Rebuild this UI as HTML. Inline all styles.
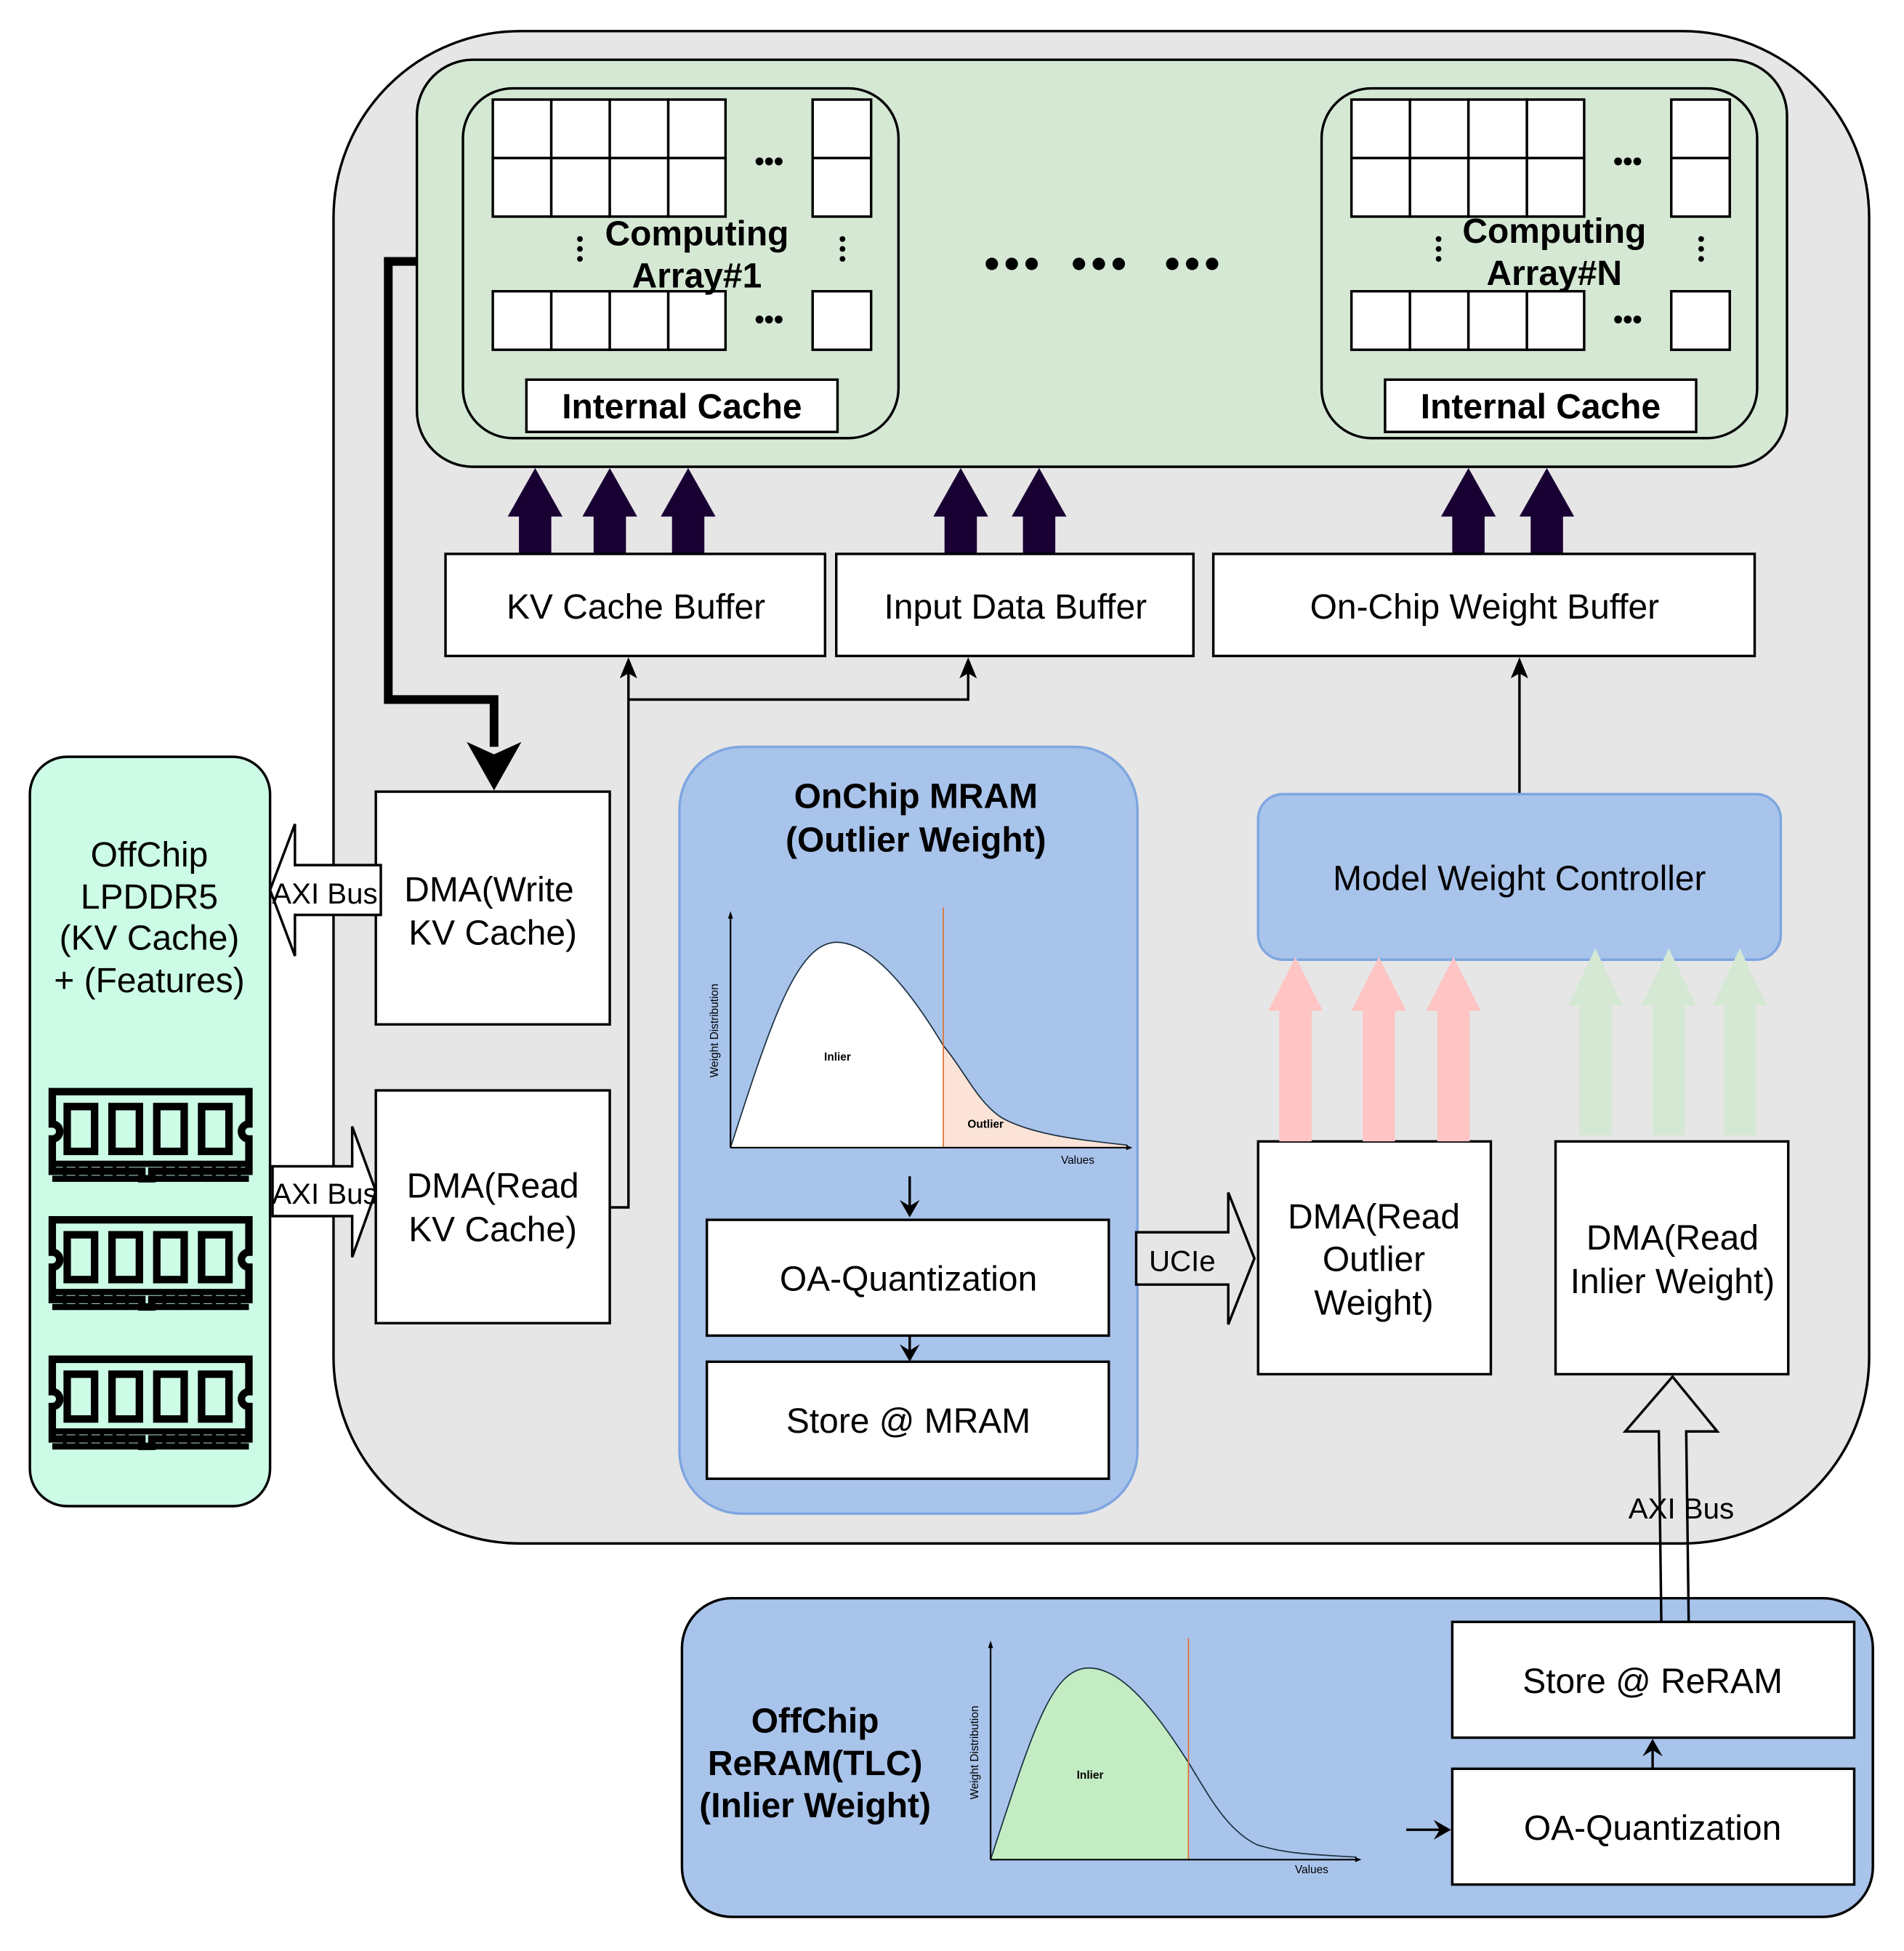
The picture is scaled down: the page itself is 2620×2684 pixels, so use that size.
<!DOCTYPE html>
<html><head><meta charset="utf-8"><style>
html,body{margin:0;padding:0;background:#fff;}
svg{display:block;}
text{font-family:"Liberation Sans",Arial,sans-serif;}
</style></head><body>
<svg width="2620" height="2684" viewBox="0 0 1530 1567.4" xmlns="http://www.w3.org/2000/svg">
<defs>
<g id="ram">
<path d="M2,2 H160 V28 a6,6 0 0 0 0,12 V66 H82 V72 H74 V66 H2 V40 a6,6 0 0 0 0,-12 Z" fill="none" stroke="#000" stroke-width="6"/>
<rect x="14" y="14" width="22" height="36" fill="none" stroke="#000" stroke-width="6"/>
<rect x="50" y="14" width="22" height="36" fill="none" stroke="#000" stroke-width="6"/>
<rect x="86" y="14" width="22" height="36" fill="none" stroke="#000" stroke-width="6"/>
<rect x="122" y="14" width="22" height="36" fill="none" stroke="#000" stroke-width="6"/>
<path d="M2,60 H160 M2,72 H160" stroke="#000" stroke-width="5"/>
<path d="M12,60 V72 M22,60 V72 M32,60 V72 M42,60 V72 M52,60 V72 M62,60 V72 M92,60 V72 M102,60 V72 M112,60 V72 M122,60 V72 M132,60 V72 M142,60 V72 M152,60 V72" stroke="#000" stroke-width="3"/>
</g>
<g id="darr"><path d="M-13,0 V-30 H-22 L0,-69 L22,-30 H13 V0 Z" fill="#190033"/></g>
<g id="cells">
<g fill="#fff" stroke="#000" stroke-width="2">
<rect x="0" y="0" width="47" height="47"/><rect x="47" y="0" width="47" height="47"/><rect x="94" y="0" width="47" height="47"/><rect x="141" y="0" width="46" height="47"/>
<rect x="0" y="47" width="47" height="47"/><rect x="47" y="47" width="47" height="47"/><rect x="94" y="47" width="47" height="47"/><rect x="141" y="47" width="46" height="47"/>
<rect x="257" y="0" width="47" height="47"/><rect x="257" y="47" width="47" height="47"/>
<rect x="0" y="154" width="47" height="47"/><rect x="47" y="154" width="47" height="47"/><rect x="94" y="154" width="47" height="47"/><rect x="141" y="154" width="46" height="47"/>
<rect x="257" y="154" width="47" height="47"/>
</g>
<text x="222" y="57" font-size="22" font-weight="bold" text-anchor="middle">•••</text>
<text x="222" y="184" font-size="22" font-weight="bold" text-anchor="middle">•••</text>
<g fill="#000"><circle cx="70" cy="112" r="2.3"/><circle cx="70" cy="120" r="2.3"/><circle cx="70" cy="128" r="2.3"/>
<circle cx="281" cy="112" r="2.3"/><circle cx="281" cy="120" r="2.3"/><circle cx="281" cy="128" r="2.3"/></g>
</g>
</defs>

<rect x="268" y="25" width="1234" height="1215" rx="150" fill="#e6e6e6" stroke="#000" stroke-width="2"/>
<rect x="335" y="48" width="1101" height="327" rx="45" fill="#d5e8d4" stroke="#000" stroke-width="2"/>

<rect x="372" y="71" width="350" height="281" rx="40" fill="#d5e8d4" stroke="#000" stroke-width="2"/>
<use href="#cells" x="396" y="80"/>
<text x="560" y="197" font-size="28" font-weight="bold" text-anchor="middle">Computing</text>
<text x="560" y="231" font-size="28" font-weight="bold" text-anchor="middle">Array#1</text>
<rect x="423" y="305" width="250" height="42" fill="#fff" stroke="#000" stroke-width="2"/>
<text x="548" y="336" font-size="28" font-weight="bold" text-anchor="middle">Internal Cache</text>

<rect x="1062" y="71" width="350" height="281" rx="40" fill="#d5e8d4" stroke="#000" stroke-width="2"/>
<use href="#cells" x="1086" y="80"/>
<text x="1249" y="195" font-size="28" font-weight="bold" text-anchor="middle">Computing</text>
<text x="1249" y="229" font-size="28" font-weight="bold" text-anchor="middle">Array#N</text>
<rect x="1113" y="305" width="250" height="42" fill="#fff" stroke="#000" stroke-width="2"/>
<text x="1238" y="336" font-size="28" font-weight="bold" text-anchor="middle">Internal Cache</text>

<g fill="#000"><circle cx="797" cy="212" r="5"/><circle cx="813" cy="212" r="5"/><circle cx="829" cy="212" r="5"/>
<circle cx="867" cy="212" r="5"/><circle cx="883" cy="212" r="5"/><circle cx="899" cy="212" r="5"/>
<circle cx="942" cy="212" r="5"/><circle cx="958" cy="212" r="5"/><circle cx="974" cy="212" r="5"/></g>

<use href="#darr" x="430" y="445"/><use href="#darr" x="490" y="445"/><use href="#darr" x="553" y="445"/>
<use href="#darr" x="772" y="445"/><use href="#darr" x="835" y="445"/>
<use href="#darr" x="1180" y="445"/><use href="#darr" x="1243" y="445"/>

<g fill="#fff" stroke="#000" stroke-width="2">
<rect x="358" y="445" width="305" height="82"/>
<rect x="672" y="445" width="287" height="82"/>
<rect x="975" y="445" width="435" height="82"/>
</g>
<g font-size="28" text-anchor="middle">
<text x="511" y="497">KV Cache Buffer</text>
<text x="816" y="497">Input Data Buffer</text>
<text x="1193" y="497">On-Chip Weight Buffer</text>
</g>

<path d="M335,210 H312 V562 H397 V600" fill="none" stroke="#000" stroke-width="7"/>
<path d="M375,596 L397,635 L419,596 L397,606 Z" fill="#000"/>

<g fill="#fff" stroke="#000" stroke-width="2">
<rect x="302" y="636" width="188" height="187"/>
<rect x="302" y="876" width="188" height="187"/>
</g>
<g font-size="28" text-anchor="middle">
<text x="393" y="724">DMA(Write</text><text x="396" y="759">KV Cache)</text>
<text x="396" y="962">DMA(Read</text><text x="396" y="997">KV Cache)</text>
</g>
<path d="M490,970 H505 V533 M505,562 H778 V533" fill="none" stroke="#000" stroke-width="2"/>
<path d="M498,545 L505,528 L512,545 L505,541 Z M771,545 L778,528 L785,545 L778,541 Z" fill="#000"/>

<rect x="24" y="608" width="193" height="602" rx="30" fill="#ccfbe6" stroke="#000" stroke-width="2"/>
<g font-size="28" text-anchor="middle">
<text x="120" y="696">OffChip</text><text x="120" y="730">LPDDR5</text><text x="120" y="763">(KV Cache)</text><text x="120" y="797">+ (Features)</text>
</g>
<use href="#ram" x="40" y="875"/>
<use href="#ram" x="40" y="978"/>
<use href="#ram" x="40" y="1090"/>

<path d="M306,695 V735 H237 V768 L217,715 L237,662 V695 Z" fill="#fff" stroke="#000" stroke-width="2"/>
<text x="261" y="726" font-size="23.5" text-anchor="middle">AXI Bus</text>
<path d="M219,937 H283 V905 L302,957 L283,1010 V977 H219 Z" fill="#fff" stroke="#000" stroke-width="2"/>
<text x="261" y="967" font-size="23.5" text-anchor="middle">AXI Bus</text>

<rect x="546" y="600" width="368" height="616" rx="50" fill="#a9c4eb" stroke="#7ea6e0" stroke-width="2"/>
<text x="736" y="649" font-size="28" font-weight="bold" text-anchor="middle">OnChip MRAM</text>
<text x="736" y="684" font-size="28" font-weight="bold" text-anchor="middle">(Outlier Weight)</text>
<path d="M587,922 C620,820 640,758 672,757 C705,757 740,810 758,840 L758,922 Z" fill="#fff"/>
<path d="M758,840 C775,860 785,885 805,898 C830,912 870,916 906,920 L906,922 L758,922 Z" fill="#fbe3d7"/>
<path d="M587,922 C620,820 640,758 672,757 C705,757 740,810 758,840 C775,860 785,885 805,898 C830,912 870,916 906,920" fill="none" stroke="#1c3040" stroke-width="1"/>
<line x1="758" y1="729" x2="758" y2="922" stroke="#e07030" stroke-width="1"/>
<path d="M587,922 V735 M587,922 H908" stroke="#000" stroke-width="1.3" fill="none"/>
<path d="M585,738 L587,732 L589,738 Z M905,920 L910,922 L905,924 Z" fill="#000"/>
<text x="673" y="852" font-size="9" font-weight="bold" text-anchor="middle">Inlier</text>
<text x="792" y="906" font-size="9" font-weight="bold" text-anchor="middle">Outlier</text>
<text x="866" y="935" font-size="9" text-anchor="middle">Values</text>
<text x="577" y="828" font-size="9" text-anchor="middle" transform="rotate(-90 577 828)">Weight Distribution</text>
<path d="M731,945 V972" stroke="#000" stroke-width="2"/>
<path d="M723,964 L731,978 L739,964 L731,969 Z" fill="#000"/>
<g fill="#fff" stroke="#000" stroke-width="2">
<rect x="568" y="980" width="323" height="93"/>
<rect x="568" y="1094" width="323" height="94"/>
</g>
<path d="M731,1073 V1088" stroke="#000" stroke-width="2"/>
<path d="M723,1080 L731,1094 L739,1080 L731,1085 Z" fill="#000"/>
<text x="730" y="1037" font-size="28" text-anchor="middle">OA-Quantization</text>
<text x="730" y="1151" font-size="28" text-anchor="middle">Store @ MRAM</text>

<path d="M913,990 H987 V958 L1008,1011 L987,1064 V1032 H913 Z" fill="#e6e6e6" stroke="#000" stroke-width="2"/>
<text x="950" y="1021" font-size="23.5" text-anchor="middle">UCIe</text>

<g fill="#fff" stroke="#000" stroke-width="2">
<rect x="1011" y="917" width="187" height="187"/>
<rect x="1250" y="917" width="187" height="187"/>
</g>
<g font-size="28" text-anchor="middle">
<text x="1104" y="987">DMA(Read</text><text x="1104" y="1021">Outlier</text><text x="1104" y="1056">Weight)</text>
<text x="1344" y="1004">DMA(Read</text><text x="1344" y="1039">Inlier Weight)</text>
</g>

<line x1="1221" y1="638" x2="1221" y2="533" stroke="#000" stroke-width="2"/>
<path d="M1214,545 L1221,528 L1228,545 L1221,541 Z" fill="#000"/>
<rect x="1011" y="638" width="420" height="133" rx="20" fill="#a9c4eb" stroke="#7ea6e0" stroke-width="2"/>
<text x="1221" y="715" font-size="28" text-anchor="middle">Model Weight Controller</text>

<g fill="#ffc4c4">
<path d="M1028,917 V812 H1019 L1041,769 L1063,812 H1054 V917 Z"/>
<path d="M1095,917 V812 H1086 L1108,769 L1130,812 H1121 V917 Z"/>
<path d="M1155,917 V812 H1146 L1168,769 L1190,812 H1181 V917 Z"/>
</g>
<g fill="#d5e8d4">
<path d="M1269,912 V808 H1260 L1282,762 L1304,808 H1295 V912 Z"/>
<path d="M1328,912 V808 H1319 L1341,762 L1363,808 H1354 V912 Z"/>
<path d="M1385,912 V808 H1376 L1398,762 L1420,808 H1411 V912 Z"/>
</g>

<rect x="548" y="1284" width="957" height="256" rx="40" fill="#a9c4eb" stroke="#000" stroke-width="2"/>
<g font-size="28" font-weight="bold" text-anchor="middle">
<text x="655" y="1392">OffChip</text><text x="655" y="1426">ReRAM(TLC)</text><text x="655" y="1460">(Inlier Weight)</text>
</g>
<path d="M796,1494 C830,1390 845,1340 875,1340 C905,1340 935,1385 955,1416 L955,1494 Z" fill="#c3ecc3"/>
<path d="M796,1494 C830,1390 845,1340 875,1340 C905,1340 935,1385 955,1416 C970,1440 985,1470 1010,1482 C1035,1490 1060,1490 1090,1492" fill="none" stroke="#1c3040" stroke-width="1"/>
<line x1="955" y1="1316" x2="955" y2="1494" stroke="#e07030" stroke-width="1"/>
<path d="M796,1494 V1321 M796,1494 H1092" stroke="#000" stroke-width="1.3" fill="none"/>
<path d="M794,1324 L796,1318 L798,1324 Z M1089,1492 L1094,1494 L1089,1496 Z" fill="#000"/>
<text x="876" y="1429" font-size="9" font-weight="bold" text-anchor="middle">Inlier</text>
<text x="1054" y="1505" font-size="9" text-anchor="middle">Values</text>
<text x="786" y="1408" font-size="9" text-anchor="middle" transform="rotate(-90 786 1408)">Weight Distribution</text>
<path d="M1130,1470 H1160" stroke="#000" stroke-width="2"/>
<path d="M1152,1462 L1166,1470 L1152,1478 L1157,1470 Z" fill="#000"/>
<g fill="#fff" stroke="#000" stroke-width="2">
<rect x="1167" y="1303" width="323" height="93"/>
<rect x="1167" y="1421" width="323" height="93"/>
</g>
<path d="M1328,1421 V1404" stroke="#000" stroke-width="2"/>
<path d="M1320,1411 L1328,1397 L1336,1411 L1328,1406 Z" fill="#000"/>
<text x="1328" y="1360" font-size="28" text-anchor="middle">Store @ ReRAM</text>
<text x="1328" y="1478" font-size="28" text-anchor="middle">OA-Quantization</text>

<path d="M1335,1303 L1333,1150 H1306 L1344,1106 L1380,1150 H1355 L1357,1303" fill="none" stroke="#000" stroke-width="2"/>
<text x="1351" y="1220" font-size="23.5" text-anchor="middle">AXI Bus</text>
</svg>
</body></html>
